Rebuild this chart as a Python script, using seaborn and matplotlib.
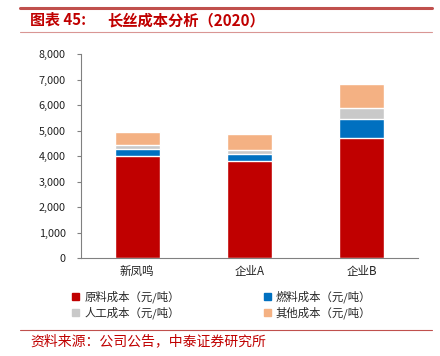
import matplotlib
matplotlib.use("Agg")
import matplotlib.pyplot as plt
import seaborn as sns
import pandas as pd
import numpy as np
from matplotlib.patches import Rectangle
from matplotlib.lines import Line2D

categories = ["新凤鸣", "企业A", "企业B"]
raw_cost = [4000, 3800, 4700]
fuel_cost = [270, 270, 750]
labor_cost = [150, 150, 420]
other_cost = [510, 630, 940]
series_names = ["原料成本（元/吨）", "燃料成本（元/吨）", "人工成本（元/吨）", "其他成本（元/吨）"]
colors = ["#C00000", "#0070C0", "#C9C9C9", "#F4B183"]
yticks = [0, 1000, 2000, 3000, 4000, 5000, 6000, 7000, 8000]

sns.set_theme(style="white")
plt.rcParams['font.family'] = ['Noto Sans CJK SC', 'DejaVu Sans']

fig = plt.figure(figsize=(4.4, 3.56), dpi=100)
ax = fig.add_axes([81/440, 1-258/356, (418-81)/440, (258-54)/356])

series = [raw_cost, fuel_cost, labor_cost, other_cost]
cum = np.cumsum(np.array(series, dtype=float), axis=0)
df = pd.DataFrame({"cat": categories})
# draw from tallest (top of stack) down so lower segments overlay
for i in range(len(series) - 1, -1, -1):
    df["v"] = cum[i]
    sns.barplot(data=df, x="cat", y="v", color=colors[i], width=0.4,
                saturation=1, ax=ax, order=categories)

ax.set_ylim(0, 8000)
ax.set_xlim(-0.5, 2.5)
ax.set_yticks(yticks)
ax.set_yticklabels([f"{v:,}" for v in yticks], fontsize=7.8, color="#222222")
ax.set_xticks(range(len(categories)))
ax.set_xticklabels(categories, fontsize=8.3, color="#222222")
ax.set_xlabel("")
ax.set_ylabel("")
ax.set_xticks([-0.5, 0.5, 1.5, 2.5], minor=True)
ax.tick_params(axis="x", which="major", length=0, pad=5)
ax.tick_params(axis="x", which="minor", length=3, direction="in", color="#808080", width=0.8)
ax.tick_params(axis="y", which="major", length=3, direction="out", color="#808080", width=0.8, pad=8, left=True)
for s in ["top", "right"]:
    ax.spines[s].set_visible(False)
for s in ["left", "bottom"]:
    ax.spines[s].set_color("#808080")
    ax.spines[s].set_linewidth(0.8)

# legend
handles = [Rectangle((0, 0), 1, 1, color=c) for c in colors]
order = [0, 2, 1, 3]
fig.legend([handles[i] for i in order], [series_names[i] for i in order],
           ncol=2, loc="upper left", bbox_to_anchor=(62/440, 1-280/356),
           frameon=False, fontsize=8.2, handlelength=0.6, handleheight=0.6,
           handletextpad=0.45, columnspacing=7.4, labelspacing=0.35)

# header and footer decorations
fig.add_artist(Line2D([20/440, 432/440], [1-7.5/356, 1-7.5/356], color="#C0504D", lw=2.2))
fig.add_artist(Line2D([20/440, 432/440], [1-31.5/356, 1-31.5/356], color="#D99694", lw=0.8))
fig.text(30/440, 1-20/356, "图表 45:", fontsize=10.8, color="#C00000",
         fontweight="bold", va="center", ha="left")
fig.text(107/440, 1-20/356, "长丝成本分析（2020）", fontsize=11, color="#C00000",
         fontweight="bold", va="center", ha="left")
fig.add_artist(Line2D([20/440, 432/440], [1-329.5/356, 1-329.5/356], color="#C0504D", lw=0.8))
fig.text(30/440, 1-341/356, "资料来源：公司公告，中泰证券研究所", fontsize=10, color="#C00000",
         va="center", ha="left")

fig.savefig("out.png", dpi=100)
